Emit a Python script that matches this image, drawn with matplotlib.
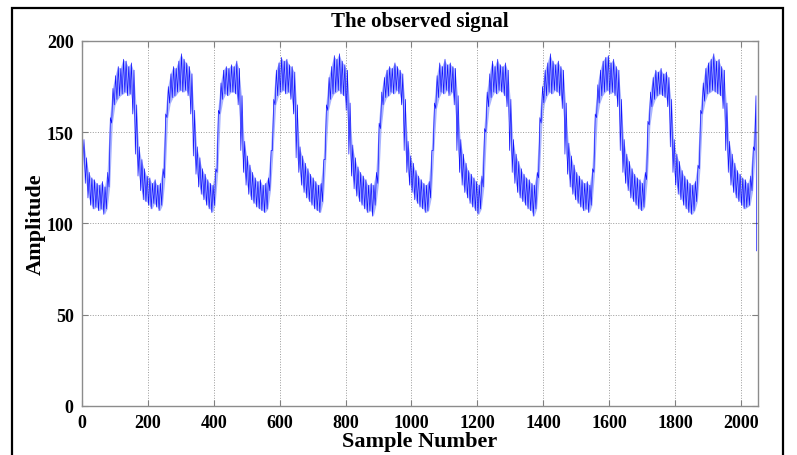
import matplotlib
matplotlib.use("Agg")
import matplotlib.pyplot as plt
from matplotlib.patches import Rectangle

# ---- data -----------------------------------------------------------------
# The signal (2048 samples) is stored as its min / max envelope in bins of
# 8 samples.
bin_width = 8
start_value = 145
end_value = 85

lo = [
    132, 122, 114, 110, 108, 109, 107, 108, 105, 108, 120, 155, 165, 168, 170, 171,
    172, 170, 171, 160, 138, 126, 118, 113, 112, 110, 108, 111, 109, 107, 110, 125,
    158, 166, 169, 170, 172, 173, 172, 173, 170, 160, 137, 127, 120, 116, 113, 110,
    108, 106, 110, 128, 160, 168, 171, 170, 172, 172, 171, 165, 140, 128, 121, 116,
    113, 111, 109, 108, 107, 106, 108, 118, 140, 165, 170, 172, 173, 171, 172, 168,
    160, 136, 128, 121, 117, 114, 112, 110, 108, 107, 106, 112, 135, 162, 168, 171,
    172, 173, 171, 170, 162, 138, 126, 119, 115, 112, 110, 108, 106, 107, 104, 110,
    122, 152, 165, 169, 170, 172, 171, 173, 171, 165, 140, 128, 121, 117, 113, 111,
    109, 108, 106, 107, 114, 140, 163, 169, 172, 171, 173, 170, 172, 165, 140, 128,
    121, 117, 114, 111, 109, 107, 105, 108, 120, 150, 164, 169, 172, 171, 173, 172,
    170, 164, 140, 128, 122, 117, 114, 112, 110, 108, 107, 104, 108, 125, 155, 166,
    170, 172, 171, 173, 172, 170, 163, 138, 127, 120, 116, 113, 111, 109, 107, 108,
    106, 110, 128, 158, 166, 170, 172, 173, 171, 172, 170, 164, 140, 128, 122, 118,
    114, 112, 110, 108, 107, 109, 124, 154, 164, 168, 170, 171, 170, 169, 164, 142,
    128, 121, 116, 113, 110, 108, 106, 105, 107, 112, 130, 160, 167, 171, 172, 173,
    172, 171, 170, 163, 140, 128, 121, 117, 114, 112, 110, 108, 109, 110, 118, 140,
]
hi = [
    146, 136, 128, 125, 124, 122, 121, 123, 120, 128, 158, 174, 181, 186, 185, 190,
    189, 186, 188, 184, 165, 142, 135, 130, 126, 125, 122, 124, 121, 122, 130, 160,
    175, 182, 186, 185, 189, 193, 190, 188, 186, 182, 162, 142, 136, 130, 127, 124,
    122, 121, 130, 162, 177, 184, 186, 185, 187, 186, 189, 185, 170, 145, 137, 132,
    128, 125, 123, 124, 121, 122, 125, 140, 168, 184, 188, 191, 189, 190, 187, 186,
    183, 165, 142, 137, 133, 130, 127, 125, 123, 121, 122, 135, 165, 180, 186, 192,
    190, 193, 189, 187, 184, 166, 143, 136, 131, 128, 126, 124, 121, 122, 121, 128,
    155, 172, 180, 184, 186, 185, 188, 186, 184, 182, 168, 145, 137, 133, 129, 126,
    124, 122, 121, 123, 140, 166, 181, 188, 186, 190, 187, 188, 186, 185, 170, 146,
    138, 133, 129, 127, 125, 123, 121, 126, 152, 172, 182, 189, 186, 190, 187, 186,
    188, 184, 168, 146, 138, 134, 130, 127, 125, 124, 122, 121, 128, 158, 175, 184,
    188, 193, 189, 187, 189, 186, 184, 166, 144, 137, 132, 128, 126, 124, 122, 123,
    121, 130, 160, 176, 184, 189, 191, 192, 188, 190, 186, 184, 168, 146, 138, 134,
    130, 127, 125, 124, 122, 128, 156, 172, 180, 184, 183, 185, 182, 183, 180, 168,
    146, 138, 134, 129, 126, 124, 122, 121, 123, 132, 162, 177, 185, 188, 190, 193,
    189, 190, 186, 184, 166, 145, 138, 133, 129, 127, 125, 124, 122, 126, 142, 170,
]

x_ticks = [0, 200, 400, 600, 800, 1000, 1200, 1400, 1600, 1800, 2000]
y_ticks = [0, 50, 100, 150, 200]
title_text = "The observed signal"
x_label = "Sample Number"
y_label = "Amplitude"

# ---- build min/max trace ----------------------------------------------------
xs = [0]
ys = [start_value]
for i, (a, b) in enumerate(zip(lo, hi)):
    xs += [i * bin_width + 2, i * bin_width + 6]
    ys += [a, b]
xs.append(len(lo) * bin_width)
ys.append(end_value)

bx = [i * bin_width + 4 for i in range(len(lo))]

# ---- figure -------------------------------------------------------------------
plt.rcParams['font.family'] = ['Liberation Serif', 'DejaVu Serif']
plt.rcParams['font.weight'] = 'bold'

fig = plt.figure(figsize=(7.97, 4.56), dpi=100)
ax = fig.add_axes([0.1029, 0.1075, 0.951 - 0.1029, 0.9079 - 0.1075])

ax.fill_between(bx, lo, hi, color=(0.25, 0.35, 1.0), alpha=0.45,
                linewidth=0)
ax.plot(xs, ys, color=(0, 0, 1), linewidth=0.5, alpha=0.9)

ax.set_xlim(0, 2052)
ax.set_ylim(0, 200)
ax.set_xticks(x_ticks)
ax.set_yticks(y_ticks)
ax.tick_params(direction='in', length=4, width=0.8, color='#808080',
               labelsize=13, pad=6, top=True, right=True)
for lab in ax.get_xticklabels() + ax.get_yticklabels():
    lab.set_fontweight('bold')
ax.grid(True, linestyle=':', color='#9a9a9a', linewidth=0.7)
for sp in ax.spines.values():
    sp.set_color('#8c8c8c')
    sp.set_linewidth(1.0)

ax.set_title(title_text, fontsize=15, fontweight='bold', pad=11)
ax.set_xlabel(x_label, fontsize=16, fontweight='bold', labelpad=0)
ax.set_ylabel(y_label, fontsize=16, fontweight='bold', labelpad=1)

# outer frame of the picture
fig.add_artist(Rectangle((12 / 797, -0.05), (783 - 12) / 797, 1 - 9 / 456 + 0.05,
                         transform=fig.transFigure, fill=False,
                         edgecolor='black', linewidth=1.6))

fig.savefig("out.png", dpi=100)
